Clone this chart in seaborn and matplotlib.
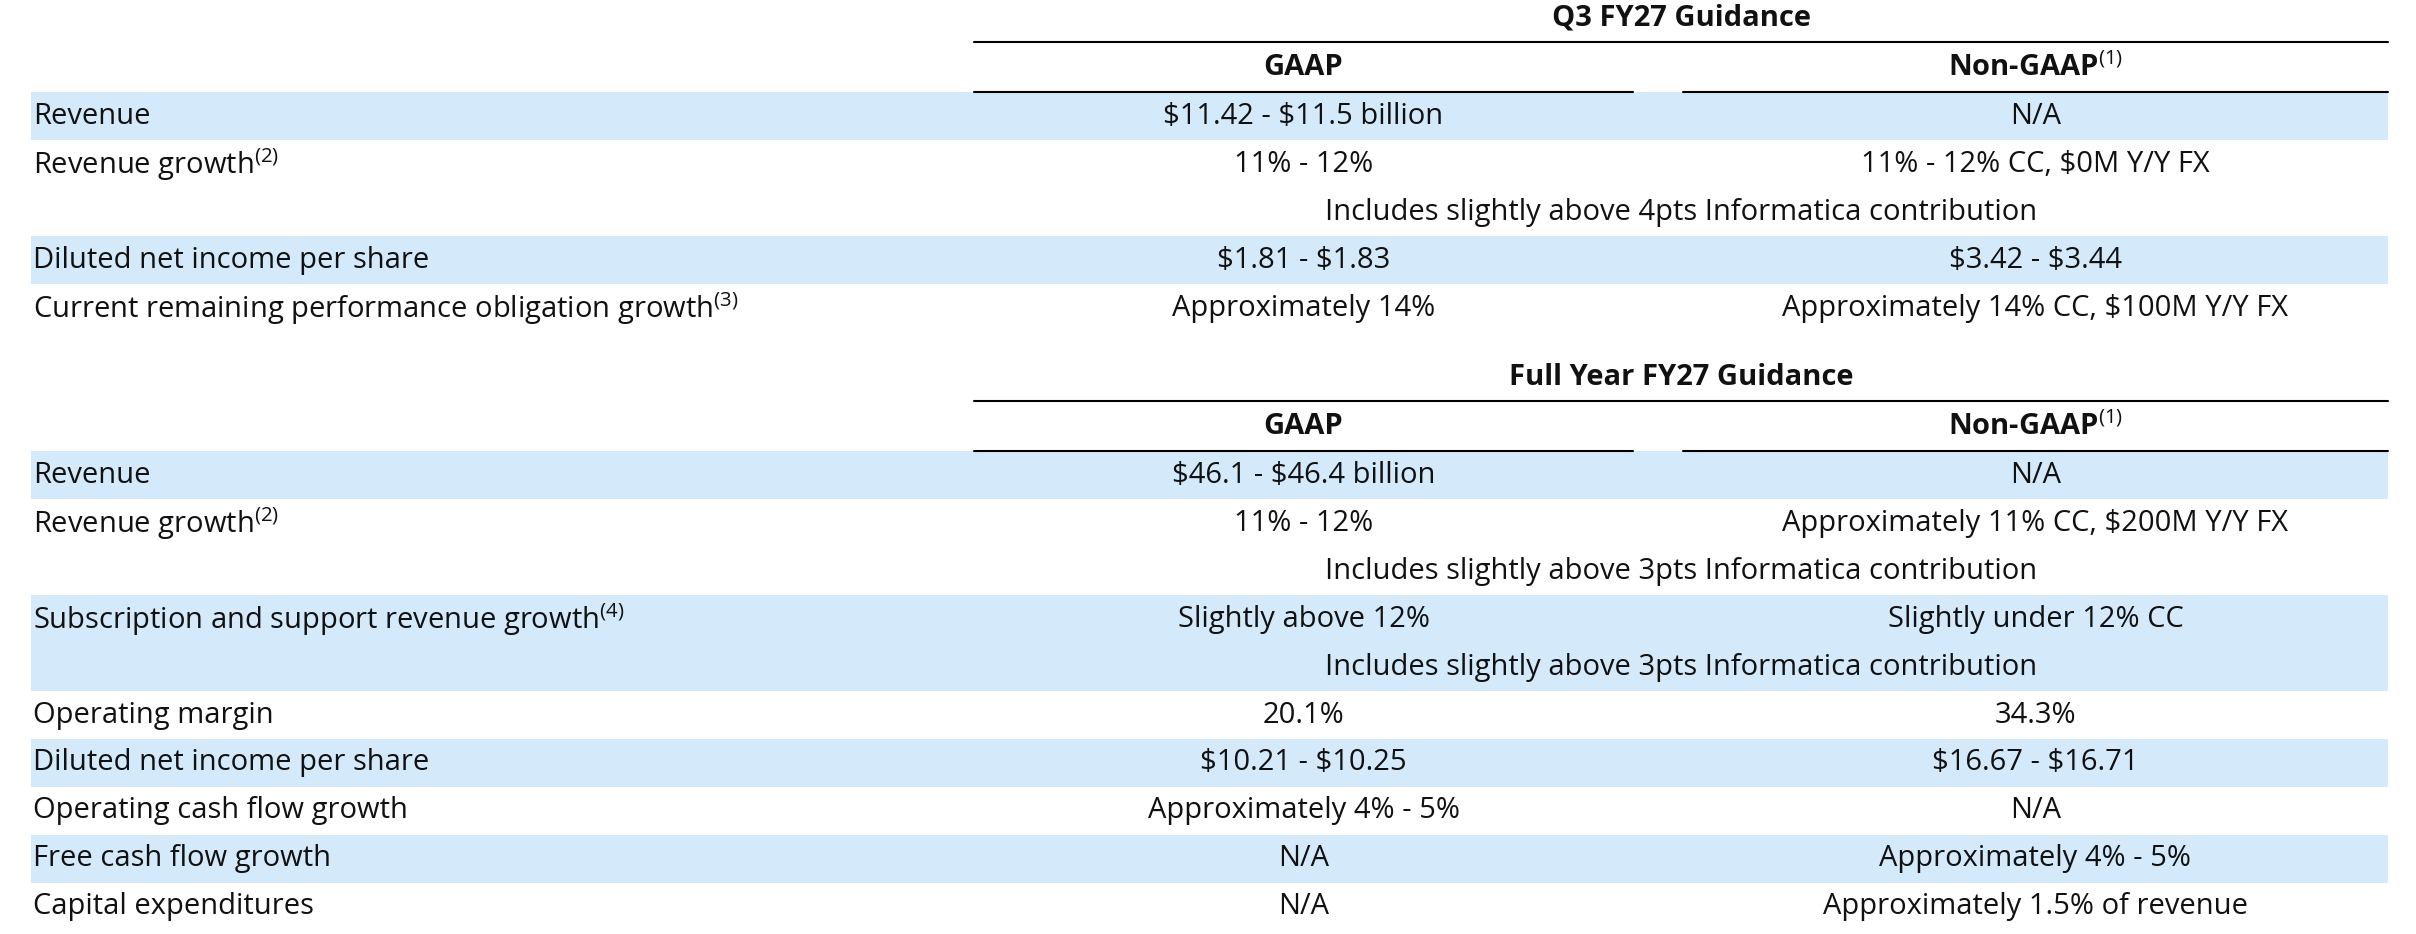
import matplotlib
matplotlib.use("Agg")
import matplotlib.pyplot as plt
import seaborn as sns

sns.set_theme(style="white")
plt.rcParams['font.family'] = ['Open Sans', 'DejaVu Sans']
plt.rcParams['mathtext.fontset'] = 'custom'
plt.rcParams['mathtext.rm'] = 'Open Sans'

SHADE = "#D4EAFB"

q3_title = "Q3 FY27 Guidance"
fy_title = "Full Year FY27 Guidance"
col_heads = ["GAAP", "Non-GAAP$^{\\mathrm{(1)}}$"]

# (label, gaap, non-gaap, shaded); a None gaap means a spanning note row
q3_rows = [
    ("Revenue", "$11.42 - $11.5 billion", "N/A", True),
    ("Revenue growth$^{\\mathrm{(2)}}$", "11% - 12%", "11% - 12% CC, $0M Y/Y FX", False),
    ("", None, "Includes slightly above 4pts Informatica contribution", False),
    ("Diluted net income per share", "$1.81 - $1.83", "$3.42 - $3.44", True),
    ("Current remaining performance obligation growth$^{\\mathrm{(3)}}$", "Approximately 14%",
     "Approximately 14% CC, $100M Y/Y FX", False),
]
fy_rows = [
    ("Revenue", "$46.1 - $46.4 billion", "N/A", True),
    ("Revenue growth$^{\\mathrm{(2)}}$", "11% - 12%", "Approximately 11% CC, $200M Y/Y FX", False),
    ("", None, "Includes slightly above 3pts Informatica contribution", False),
    ("Subscription and support revenue growth$^{\\mathrm{(4)}}$", "Slightly above 12%",
     "Slightly under 12% CC", True),
    ("", None, "Includes slightly above 3pts Informatica contribution", True),
    ("Operating margin", "20.1%", "34.3%", False),
    ("Diluted net income per share", "$10.21 - $10.25", "$16.67 - $16.71", True),
    ("Operating cash flow growth", "Approximately 4% - 5%", "N/A", False),
    ("Free cash flow growth", "N/A", "Approximately 4% - 5%", True),
    ("Capital expenditures", "N/A", "Approximately 1.5% of revenue", False),
]

S = 2416 / 1568  # layout measured on a 1568-wide view
fig = plt.figure(figsize=(24.16, 9.34), dpi=100)
ax = fig.add_axes([0, 0, 1, 1])
ax.set_xlim(0, 2416)
ax.set_ylim(934, 0)
ax.axis("off")

FS = 21
X0, X1 = 20 * S, 1550 * S
G0, G1 = 632 * S, 1060 * S
N0, N1 = 1092 * S, 1550 * S
RH = 31.1 * S


def esc(t):
    return t.replace("$", "\\$") if "$^" not in t else t


def block(top, title, rows):
    ax.text((G0 + N1) / 2, top + 12 * S, title, ha="center", va="center",
            fontsize=FS, fontweight="bold", color="#111")
    ax.plot([G0, N1], [top + 27 * S] * 2, color="black", lw=1.5)
    ax.text((G0 + G1) / 2, top + 44 * S, col_heads[0], ha="center", va="center",
            fontsize=FS, fontweight="bold", color="#111")
    ax.text((N0 + N1) / 2, top + 44 * S, col_heads[1], ha="center", va="center",
            fontsize=FS, fontweight="bold", color="#111")
    ax.plot([G0, G1], [top + 60 * S] * 2, color="black", lw=1.5)
    ax.plot([N0, N1], [top + 60 * S] * 2, color="black", lw=1.5)
    y = top + 60 * S
    for label, g, n, shaded in rows:
        if shaded:
            ax.add_patch(plt.Rectangle((X0, y), X1 - X0, RH, color=SHADE, lw=0))
        yc = y + RH / 2
        if label:
            ax.text(X0 + 2, yc, label, ha="left", va="center", fontsize=FS, color="#111")
        if g is None:
            ax.text((G0 + N1) / 2, yc, n.replace("$", "\\$"), ha="center", va="center",
                    fontsize=FS, color="#111")
        else:
            ax.text((G0 + G1) / 2, yc, g.replace("$", "\\$"), ha="center", va="center",
                    fontsize=FS, color="#111")
            ax.text((N0 + N1) / 2, yc, n.replace("$", "\\$"), ha="center", va="center",
                    fontsize=FS, color="#111")
        y += RH


block(0, q3_title, q3_rows)
block(233 * S, fy_title, fy_rows)

fig.savefig("out.png", dpi=100, facecolor="white")
